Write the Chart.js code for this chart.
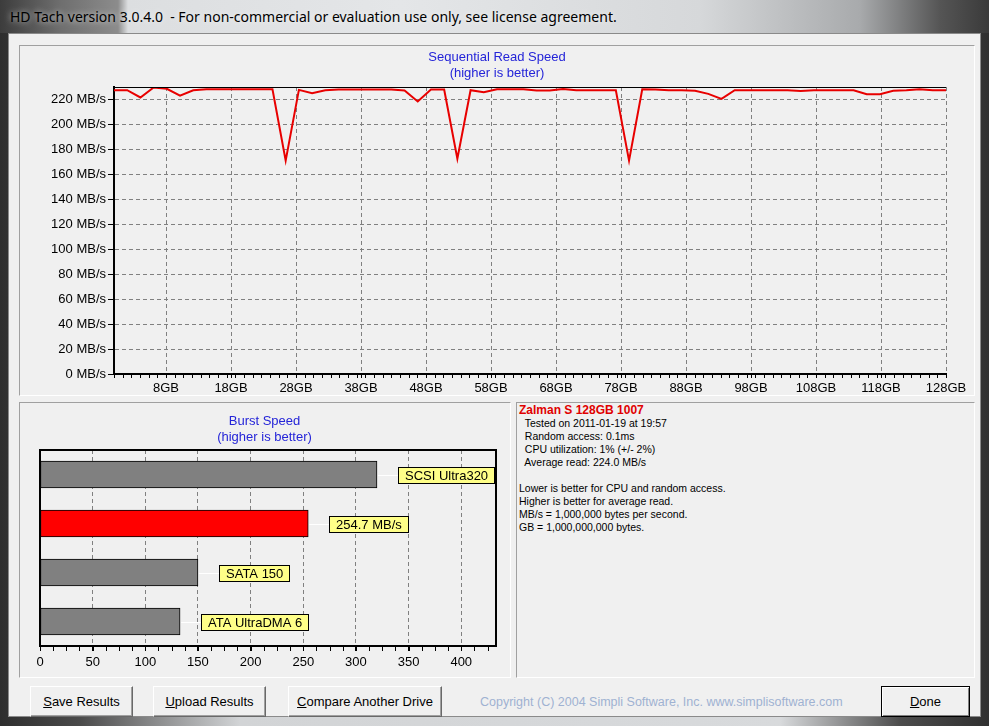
<!DOCTYPE html>
<html>
<head>
<meta charset="utf-8">
<title>HD Tach</title>
<script src="https://cdn.jsdelivr.net/npm/chart.js@4.4.0/dist/chart.umd.min.js"></script>
<style>
  html, body { margin: 0; padding: 0; }
  body {
    width: 989px; height: 726px; position: relative; overflow: hidden;
    font-family: "Liberation Sans", Arial, sans-serif;
    background: linear-gradient(90deg, #2e2e2e 0px, #4a4a4a 80px, #d2d4d6 240px, #d8dadc 780px, #4c4c4c 900px, #303030 989px);
  }
  .titlebar {
    position: absolute; left: 0; top: 0; width: 989px; height: 33px;
    background: linear-gradient(90deg, #3c3c3c 0px, #6e6e6e 60px, #8c8c8c 118px, #dcdee0 128px, #e4e6e8 400px, #d6d8da 700px, #a8aaac 860px, #555 940px, #3a3a3a 989px);
  }
  .titlebar span {
    position: absolute; left: 10px; top: 7px; white-space: pre;
    font-family: "Noto Sans", sans-serif; font-size: 14px; color: #000;
    text-shadow: 0 0 6px rgba(255,255,255,0.8);
  }
  .client {
    position: absolute; left: 8px; top: 33px; width: 971px; height: 682px;
    background: #f0f0f0; border: 1px solid #8a8a8a;
  }
  .panel {
    position: absolute; background: #f0f0f0;
    border-top: 1px solid #a0a0a0; border-left: 1px solid #a0a0a0;
    border-bottom: 1px solid #fff; border-right: 1px solid #fff;
  }
  canvas { position: absolute; }
  .info {
    position: absolute; left: 519px; top: 404px; margin: 0;
    font-family: "Liberation Sans", Arial, sans-serif; font-size: 10.5px; line-height: 13px;
    white-space: pre; color: #000;
  }
  .info b { color: #e00000; font-size: 12px; }
  .btn {
    position: absolute; top: 686px; height: 29px; line-height: 29px; text-align: center;
    font-size: 13px; color: #000; background: #f0f0f0;
    border: 1px solid; border-color: #fff #696969 #696969 #fff;
    box-shadow: inset -1px -1px 0 #a0a0a0;
  }
  .btn.def { border: 1px solid #000; box-shadow: inset 1px 1px 0 #fff, inset -1px -1px 0 #808080; }
  .copy {
    position: absolute; left: 480px; top: 695px; font-size: 12.5px; color: #9fb2d2; white-space: pre;
  }
</style>
</head>
<body>
<div class="titlebar"><span>HD Tach version 3.0.4.0  - For non-commercial or evaluation use only, see license agreement.</span></div>
<div class="client"></div>

<div class="panel" style="left:19px;top:45px;width:954px;height:349px"></div>
<div class="panel" style="left:19px;top:402px;width:490px;height:274px"></div>
<div class="panel" style="left:516px;top:402px;width:457px;height:274px"></div>

<canvas id="chartRead" width="954" height="348" style="left:20px;top:46px"></canvas>
<canvas id="chartBurst" width="489" height="273" style="left:20px;top:403px"></canvas>

<pre class="info"><b>Zalman S 128GB 1007</b>
  Tested on 2011-01-19 at 19:57
  Random access: 0.1ms
  CPU utilization: 1% (+/- 2%)
  Average read: 224.0 MB/s

Lower is better for CPU and random access.
Higher is better for average read.
MB/s = 1,000,000 bytes per second.
GB = 1,000,000,000 bytes.</pre>

<div class="btn" style="left:30px;width:101px"><u>S</u>ave Results</div>
<div class="btn" style="left:153px;width:111px"><u>U</u>pload Results</div>
<div class="btn" style="left:288px;width:152px"><u>C</u>ompare Another Drive</div>
<div class="copy">Copyright (C) 2004 Simpli Software, Inc. www.simplisoftware.com</div>
<div class="btn def" style="left:881px;width:87px"><u>D</u>one</div>

<script>
// Sequential read: one sample per position, spread evenly over the disk (0 - 128 GB)
const readSpeed = [
    227.4, 227.4, 221.6, 229.6, 228.6, 223.0, 227.4, 228.2, 228.2, 228.2,
    228.2, 228.2, 228.2, 171.0, 227.7, 225.0, 227.4, 228.0, 228.0, 228.0,
    228.0, 228.0, 227.2, 218.4, 228.0, 228.0, 172.5, 227.4, 225.8, 228.2,
    228.2, 228.2, 227.2, 227.2, 228.4, 227.4, 227.4, 227.4, 227.4, 171.0,
    228.2, 228.0, 227.4, 227.4, 227.0, 224.5, 220.5, 227.4, 227.4, 227.4,
    227.4, 227.4, 226.7, 227.4, 227.4, 227.4, 227.4, 224.2, 224.2, 227.0,
    227.4, 228.2, 227.4, 227.4
];
const gbTicks = [8, 18, 28, 38, 48, 58, 68, 78, 88, 98, 108, 118, 128];
const speedTicks = [0, 20, 40, 60, 80, 100, 120, 140, 160, 180, 200, 220];

// Burst speed
const burstNames = ['SCSI Ultra320', 'Zalman S 128GB 1007', 'SATA 150', 'ATA UltraDMA 6'];
const burstValues = [320, 254.7, 150, 133];
const burstColors = ['#808080', '#ff0000', '#808080', '#808080'];
const burstTicks = [0, 50, 100, 150, 200, 250, 300, 350, 400];

const TITLE_BLUE = '#2424d8';
Chart.defaults.font.family = '"Liberation Sans", Arial, sans-serif';
Chart.defaults.font.size = 13;
Chart.defaults.color = '#000';

// empty axis, only used to reserve a margin (keeps the title centred on the panel)
function spacer(position, width) {
    return {
        type: 'linear', position: position, display: true,
        ticks: { display: false },
        grid: { display: false, drawTicks: false },
        border: { display: false },
        afterFit: s => { s.width = width; }
    };
}

// small ticks under the x axis
function minorTicks(chart, step, max, len) {
    const { ctx, chartArea, scales } = chart;
    const x = scales.x;
    ctx.save();
    ctx.strokeStyle = '#000';
    ctx.lineWidth = 1;
    ctx.beginPath();
    for (let v = 0; v <= max + 0.001; v += step) {
        const px = Math.round(x.getPixelForValue(v)) + 0.5;
        ctx.moveTo(px, chartArea.bottom);
        ctx.lineTo(px, chartArea.bottom + len);
    }
    ctx.stroke();
    ctx.restore();
}

document.addEventListener("DOMContentLoaded", function () {
    const ctxRead = document.getElementById('chartRead').getContext('2d');

    new Chart(ctxRead, {
        type: 'line',
        data: {
            labels: readSpeed.map((_, i) => i),
            datasets: [{
                data: readSpeed,
                xAxisID: 'samples',
                borderColor: '#e80000',
                borderWidth: 2,
                pointRadius: 0,
                tension: 0
            }]
        },
        options: {
            responsive: false,
            animation: false,
            layout: { padding: 0 },
            plugins: {
                legend: { display: false },
                tooltip: { enabled: false },
                title: {
                    display: true,
                    text: ['Sequential Read Speed', '(higher is better)'],
                    color: TITLE_BLUE,
                    font: { size: 13, weight: 'normal', lineHeight: 16 / 13 },
                    padding: { top: 3, bottom: 6 }
                }
            },
            scales: {
                samples: { type: 'category', display: false, offset: false },
                x: {
                    type: 'linear', position: 'bottom', min: 0, max: 128,
                    afterBuildTicks: s => { s.ticks = gbTicks.map(v => ({ value: v })); },
                    afterFit: s => { s.height = 20; },
                    ticks: { callback: v => v + 'GB', padding: 3, maxRotation: 0, autoSkip: false },
                    grid: { color: '#808080', tickColor: '#000', tickLength: 4 },
                    border: { color: '#000', width: 2, dash: [4, 3] }
                },
                y: {
                    min: 0, max: 230,
                    afterBuildTicks: s => { s.ticks = speedTicks.map(v => ({ value: v })); },
                    afterFit: s => { s.width = 94; },
                    ticks: { callback: v => v + ' MB/s', padding: 2 },
                    grid: { color: '#808080', tickColor: '#000', tickLength: 6 },
                    border: { color: '#000', width: 2, dash: [4, 3] }
                },
                gap: spacer('right', 28)
            }
        },
        plugins: [{
            id: 'readFrame',
            afterDraw(chart) {
                const { ctx, chartArea } = chart;
                ctx.save();
                ctx.strokeStyle = '#000';
                ctx.lineWidth = 1;
                ctx.beginPath();
                ctx.moveTo(chartArea.left, chartArea.top + 0.5);
                ctx.lineTo(chartArea.right, chartArea.top + 0.5);
                ctx.stroke();
                ctx.restore();
                minorTicks(chart, 4 / 3, 128, 4);
            }
        }]
    });

    const ctxBurst = document.getElementById('chartBurst').getContext('2d');

    new Chart(ctxBurst, {
        type: 'bar',
        data: {
            labels: burstNames,
            datasets: [{
                data: burstValues,
                backgroundColor: burstColors,
                borderColor: '#000',
                borderWidth: 1,
                borderSkipped: false,
                barThickness: 27
            }]
        },
        options: {
            indexAxis: 'y',
            responsive: false,
            animation: false,
            layout: { padding: 0 },
            plugins: {
                legend: { display: false },
                tooltip: { enabled: false },
                title: {
                    display: true,
                    text: ['Burst Speed', '(higher is better)'],
                    color: TITLE_BLUE,
                    font: { size: 13, weight: 'normal', lineHeight: 16 / 13 },
                    padding: { top: 10, bottom: 5 }
                }
            },
            scales: {
                x: {
                    min: 0, max: 433,
                    afterBuildTicks: s => { s.ticks = burstTicks.map(v => ({ value: v })); },
                    afterFit: s => { s.height = 30; },
                    ticks: { padding: 4, maxRotation: 0, autoSkip: false },
                    grid: { color: '#808080', tickColor: '#000', tickLength: 5 },
                    border: { color: '#000', width: 2, dash: [4, 3] }
                },
                y: {
                    display: true,
                    ticks: { display: false },
                    grid: { display: false, drawTicks: false },
                    border: { display: false },
                    afterFit: s => { s.width = 20; }
                },
                gap: spacer('right', 13)
            }
        },
        plugins: [{
            id: 'burstLabels',
            afterDatasetsDraw(chart) {
                const { ctx } = chart;
                const meta = chart.getDatasetMeta(0);
                ctx.save();
                ctx.font = '13px "Liberation Sans", Arial, sans-serif';
                ctx.textBaseline = 'middle';
                meta.data.forEach((bar, i) => {
                    const text = i === 1 ? burstValues[i] + ' MB/s' : burstNames[i];
                    const w = Math.round(ctx.measureText(text).width) + 14;
                    const bx = Math.round(bar.x) + 21;
                    const by = Math.round(bar.y);
                    ctx.strokeStyle = '#fff';
                    ctx.lineWidth = 1;
                    ctx.beginPath();
                    ctx.moveTo(bar.x + 1, by + 0.5);
                    ctx.lineTo(bx, by + 0.5);
                    ctx.stroke();
                    ctx.fillStyle = '#ffff88';
                    ctx.fillRect(bx, by - 8, w, 17);
                    ctx.strokeStyle = '#000';
                    ctx.strokeRect(bx + 0.5, by - 7.5, w - 1, 16);
                    ctx.fillStyle = '#000';
                    ctx.fillText(text, bx + 7, by + 1);
                });
                ctx.restore();
            },
            afterDraw(chart) {
                const { ctx, chartArea } = chart;
                ctx.save();
                ctx.strokeStyle = '#000';
                ctx.lineWidth = 2;
                ctx.strokeRect(chartArea.left, chartArea.top, chartArea.right - chartArea.left, chartArea.bottom - chartArea.top);
                ctx.restore();
                minorTicks(chart, 12.5, 433, 5);
            }
        }]
    });
});
</script>
</body>
</html>
